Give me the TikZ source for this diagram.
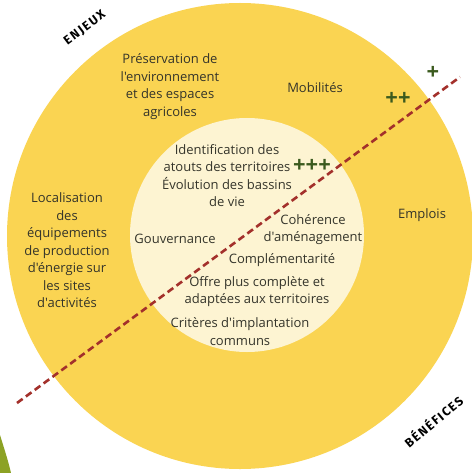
\documentclass[tikz,border=0pt]{standalone}
\usepackage{fontspec}
\setmainfont{Open Sans}[Ligatures=TeXOff]
\newfontfamily\titlefont[LetterSpace=12]{Fira Sans}
\definecolor{outery}{HTML}{FAD452}
\definecolor{innerc}{HTML}{FDF4D2}
\definecolor{dashred}{HTML}{A3302B}
\definecolor{plusgreen}{HTML}{3B5A1E}
\definecolor{txt}{HTML}{34342A}
\definecolor{leaf}{HTML}{8CA224}
\tikzset{
  lbl/.style={text=txt, font=\fontsize{13}{17.5}\selectfont, align=center, inner sep=0pt},
  plus/.style={text=plusgreen, font=\fontsize{22}{22}\bfseries\selectfont, inner sep=0pt},
  corner/.style={text=black, font=\fontsize{12.5}{12.5}\titlefont\bfseries\selectfont, inner sep=0pt},
  divider/.style={draw=dashred, line width=2.6pt, dash pattern=on 7pt off 4pt}
}
\begin{document}
\begin{tikzpicture}[x=1pt,y=-1pt]
\useasboundingbox (0,0) rectangle (471,473);
\fill[white] (0,0) rectangle (471,473);
% outer and inner circles
\fill[outery] (240,236) circle[radius=233pt];
\fill[innerc] (247,235) circle[radius=117pt];
% green leaf at bottom-left
\fill[leaf] (0,435) .. controls (4,448) and (8,460) .. (11,473) -- (0,473) -- cycle;
% divider
\coordinate (dA) at (17,403);
\coordinate (dB) at (460,77);
\draw[divider] (dA) -- (dB);
% corner titles
\node[corner, rotate=37] (enjeux) at (85,28) {ENJEUX};
\node[corner, rotate=40] (benef) at (433,421) {BÉNÉFICES};
% outer ring labels
\node[lbl] (pres) at (170,86.5) {Préservation de\\l'environnement\\et des espaces\\agricoles};
\node[lbl] (mob) at (315,88) {Mobilités};
\node[lbl] (loc) at (67,250.5) {Localisation\\des\\équipements\\de production\\d'énergie sur\\les sites\\d'activités};
\node[lbl] (emp) at (422,215) {Emplois};
% inner circle labels
\node[lbl] (ident) at (227,175.5) {Identification des\\atouts des territoires\\Évolution des bassins\\de vie};
\node[lbl] (gouv) at (175,239) {Gouvernance};
\node[lbl] (coh) at (313,229.5) {Cohérence\\d'aménagement};
\node[lbl] (comp) at (282,260) {Complémentarité};
\node[lbl] (offre) at (257,291.5) {Offre plus complète et\\adaptées aux territoires};
\node[lbl] (crit) at (240,331.5) {Critères d'implantation\\communs};
% pluses
\node[plus] (p1) at (433,73) {+};
\node[plus] (p2) at (398,99) {++};
\node[plus] (p3) at (312,166) {+++};
\end{tikzpicture}
\end{document}
